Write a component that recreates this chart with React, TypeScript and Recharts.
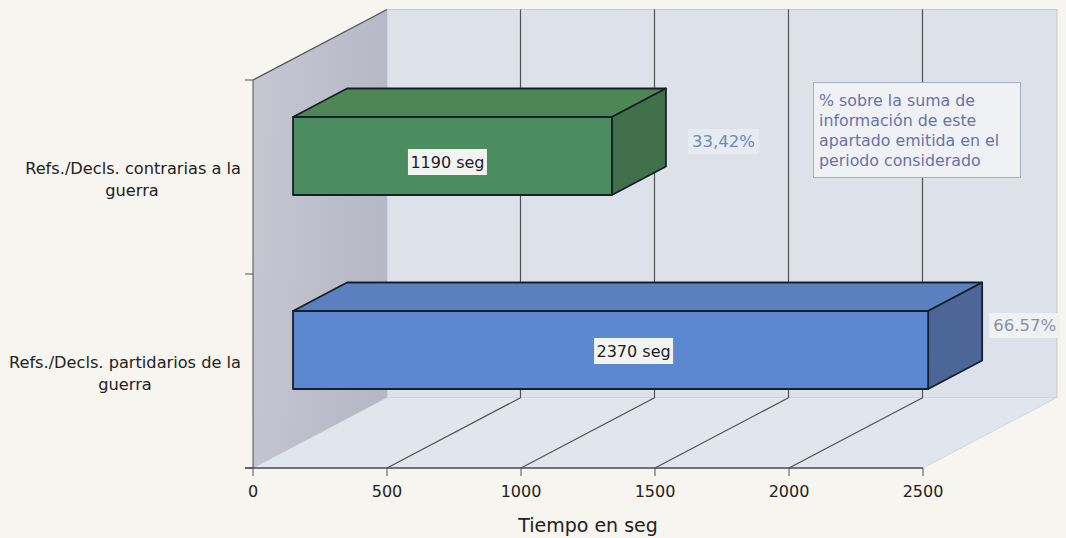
import React from "react";
import { BarChart, Bar, XAxis, YAxis, Customized, Cell, usePlotArea } from "recharts";

const categories = ["Refs./Decls. contrarias a la guerra", "Refs./Decls. partidarios de la guerra"];
const categoryLine1 = ["Refs./Decls. contrarias a la", "Refs./Decls. partidarios de la"];
const categoryLine2 = ["guerra", "guerra"];
const seconds = [1190, 2370];
const valueLabels = ["1190 seg", "2370 seg"];
const shareLabels = ["33,42%", "66.57%"];
const xTicks = [0, 500, 1000, 1500, 2000, 2500];
const noteLines = ["% sobre la suma de", "información de este", "apartado emitida en el", "periodo considerado"];
const axisTitle = "Tiempo en seg";

const FONT = "'DejaVu Sans', Verdana, sans-serif";
const WALL_DX = 134;
const WALL_DY = 70.5;
const BAR_DX = 54;
const BAR_DY = 28.5;
const BAR_SHIFT_X = 40;
const BAR_SHIFT_Y = -21;

const barStyles = [
  { front: "#4b8d5e", top: "#4f8656", side: "#41704b" },
  { front: "#5b88d0", top: "#5a80bf", side: "#4d6698" },
];
// centre of the value box relative to the centre of the front face
const valueBoxOffset = [{ dx: -5, dy: 6 }, { dx: 23, dy: 1 }];
// share box relative to the far end of the bar and to the centre of the front face
const shareBoxOffset = [{ dx: 22, dy: -27 }, { dx: 7, dy: -37 }];
const shareBoxFill = ["#e6eaf1", "#eff1f3"];
const shareTextFill = ["#7088b2", "#8b90a8"];
const line2Centre = [132, 125];

const data = categories.map((c, i) => ({ category: c, seconds: seconds[i] }));

function Scene() {
  const area = usePlotArea();
  if (!area) return null;
  const { x: left, y: top, width, height } = area;
  const right = left + width;
  const bottom = top + height;
  const step = width / (xTicks.length - 1);
  const dark = "#4f5155";
  return (
    <g>
      <defs>
        <linearGradient id="sideWall" x1="0" y1="0" x2="1" y2="0.2">
          <stop offset="0" stopColor="#c6c7d1" />
          <stop offset="1" stopColor="#b6b8c6" />
        </linearGradient>
      </defs>
      <polygon
        points={`${left + WALL_DX},${top - WALL_DY} ${right + WALL_DX},${top - WALL_DY} ${right + WALL_DX},${bottom - WALL_DY} ${left + WALL_DX},${bottom - WALL_DY}`}
        fill="#dde1ea"
        stroke="#c6c9d0"
      />
      <polygon
        points={`${left},${bottom} ${right},${bottom} ${right + WALL_DX},${bottom - WALL_DY} ${left + WALL_DX},${bottom - WALL_DY}`}
        fill="#e1e5ed"
        stroke="#d3d6dc"
      />
      <polygon
        points={`${left},${top} ${left + WALL_DX},${top - WALL_DY} ${left + WALL_DX},${bottom - WALL_DY} ${left},${bottom}`}
        fill="url(#sideWall)"
      />
      {xTicks.slice(1, -1).map((_, i) => {
        const x = left + step * (i + 1);
        return (
          <g key={i} stroke={dark} strokeWidth={1.2}>
            <line x1={x} y1={bottom} x2={x + WALL_DX} y2={bottom - WALL_DY} />
            <line x1={x + WALL_DX - 0.5} y1={top - WALL_DY} x2={x + WALL_DX - 0.5} y2={bottom - WALL_DY} />
          </g>
        );
      })}
      <line x1={left} y1={top} x2={left + WALL_DX} y2={top - WALL_DY} stroke={dark} strokeWidth={1.2} />
      <line x1={left} y1={top} x2={left} y2={bottom} stroke={dark} />
      <line x1={left - 8} y1={bottom} x2={right} y2={bottom} stroke="#4c4d50" strokeWidth={1.5} />
      {[0, 0.5, 1].map((f) => (
        <line key={f} x1={left - 8} y1={top + height * f} x2={left} y2={top + height * f} stroke={dark} />
      ))}
      {xTicks.map((_, i) => (
        <line key={i} x1={left + step * i} y1={bottom} x2={left + step * i} y2={bottom + 8} stroke={dark} />
      ))}
      <rect x={813.5} y={82.5} width={207} height={95} fill="#eff1f5" stroke="#a9adbf" />
      <text fontFamily={FONT} fontSize={15.8} fill="#6873a6">
        {noteLines.map((t, i) => (
          <tspan key={i} x={819} y={106 + i * 20}>{t}</tspan>
        ))}
      </text>
    </g>
  );
}

function Bar3D(props: any) {
  const { x, y, width, height, index } = props;
  const s = barStyles[index];
  const fx = x + BAR_SHIFT_X;
  const fy = y + BAR_SHIFT_Y;
  const rx = fx + width;
  const by = fy + height;
  const cx = fx + width / 2;
  const cy = fy + height / 2;
  const vo = valueBoxOffset[index];
  const so = shareBoxOffset[index];
  const edge = { stroke: "#14202a", strokeWidth: 1.8, strokeLinejoin: "round" as const };
  return (
    <g>
      <polygon points={`${fx},${fy} ${fx + BAR_DX},${fy - BAR_DY} ${rx + BAR_DX},${fy - BAR_DY} ${rx},${fy}`} fill={s.top} {...edge} />
      <polygon points={`${rx},${fy} ${rx + BAR_DX},${fy - BAR_DY} ${rx + BAR_DX},${by - BAR_DY} ${rx},${by}`} fill={s.side} {...edge} />
      <rect x={fx} y={fy} width={width} height={height} fill={s.front} {...edge} />
      <rect x={cx + vo.dx - 39.5} y={cy + vo.dy - 13} width={79} height={26} fill="#f2f4f1" />
      <text x={cx + vo.dx} y={cy + vo.dy + 5.5} textAnchor="middle" fontFamily={FONT} fontSize={16} fill="#1d1d1f">
        {valueLabels[index]}
      </text>
      <rect x={rx + BAR_DX + so.dx} y={cy + so.dy} width={71} height={25} fill={shareBoxFill[index]} />
      <text x={rx + BAR_DX + so.dx + 35.5} y={cy + so.dy + 18} textAnchor="middle" fontFamily={FONT} fontSize={16.5} fill={shareTextFill[index]}>
        {shareLabels[index]}
      </text>
    </g>
  );
}

function CategoryTick(props: any) {
  const { y, index } = props;
  return (
    <text fontFamily={FONT} fontSize={16.2} fill="#222">
      <tspan x={241} y={y - 3} textAnchor="end">{categoryLine1[index]}</tspan>
      <tspan x={line2Centre[index]} y={y + 19} textAnchor="middle">{categoryLine2[index]}</tspan>
    </text>
  );
}

export default function App() {
  return (
    <div style={{ position: "absolute", left: 0, top: 0, width: 1066, height: 538, background: "#f6f5f0" }}>
      <BarChart
        width={1066}
        height={538}
        data={data}
        layout="vertical"
        barCategoryGap={0}
        margin={{ top: 80, right: 143, bottom: 0, left: 0 }}
      >
        <Customized component={<Scene />} />
        <XAxis
          type="number"
          domain={[0, 2500]}
          ticks={xTicks}
          axisLine={false}
          tickLine={false}
          height={70}
          interval={0}
          tick={{ fontFamily: FONT, fontSize: 16, fill: "#222" }}
          tickMargin={12}
          label={{ value: axisTitle, position: "insideBottom", offset: 6, fontFamily: FONT, fontSize: 19, fill: "#222" }}
        />
        <YAxis type="category" dataKey="category" width={253} axisLine={false} tickLine={false} tick={<CategoryTick />} interval={0} />
        <Bar dataKey="seconds" barSize={78} isAnimationActive={false} shape={<Bar3D />}>
          {data.map((d) => <Cell key={d.category} />)}
        </Bar>
      </BarChart>
    </div>
  );
}
